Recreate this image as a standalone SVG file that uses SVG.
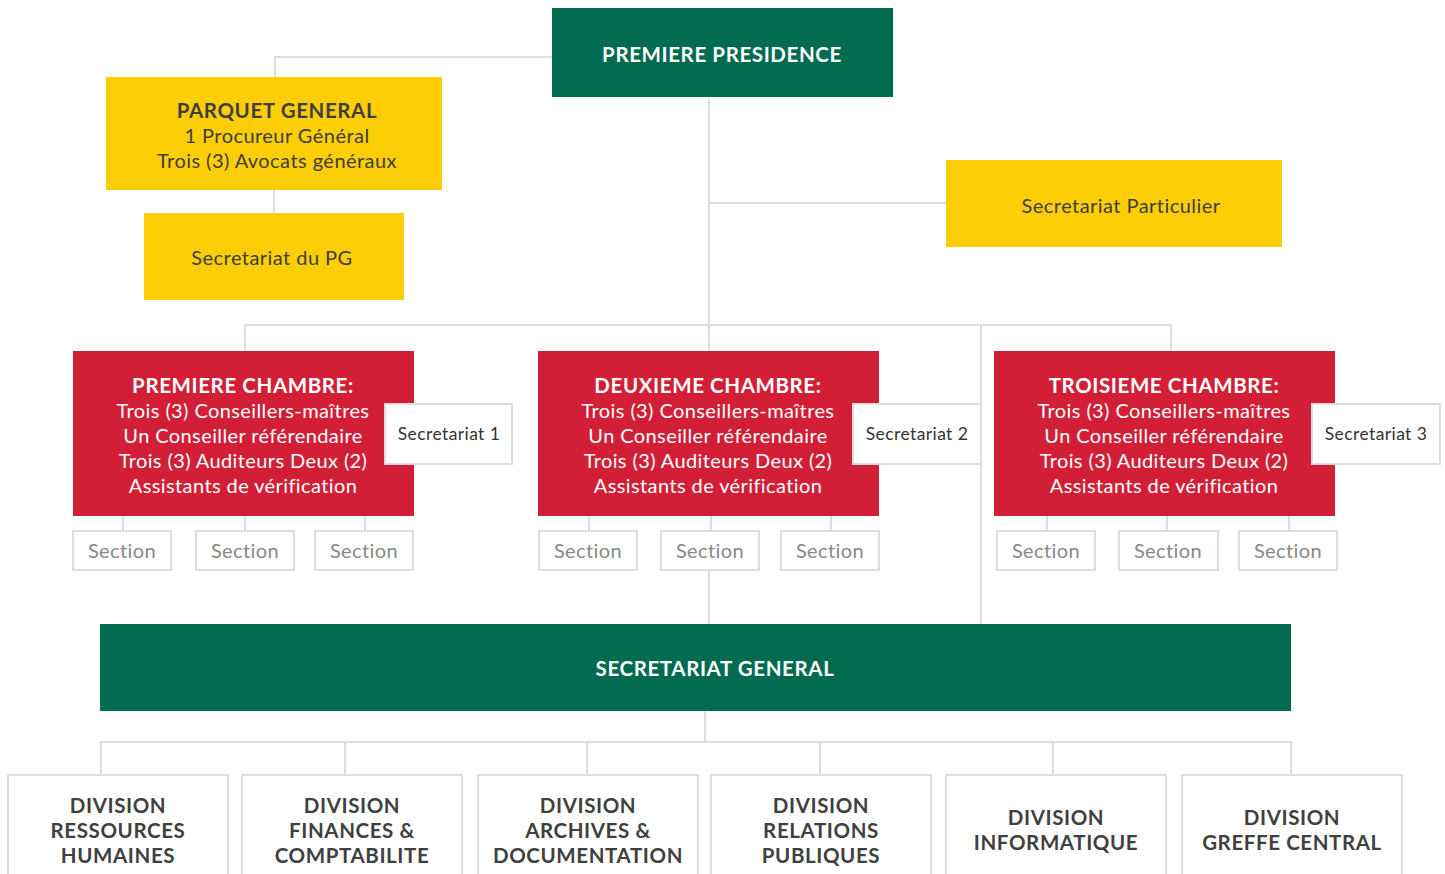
<svg xmlns="http://www.w3.org/2000/svg" width="1445" height="874" viewBox="0 0 1445 874">
<style>
.green{fill:#006B4F}
.yellow{fill:#FDCD06}
.red{fill:#D21F36}
.wbox{fill:#fff;stroke:#dddddd;stroke-width:2}
.conn{stroke:#dddddd;stroke-width:2;fill:none}
text{font-family:Lato,"Open Sans","Liberation Sans",sans-serif;text-anchor:middle;letter-spacing:0.4px}
.tw{fill:#fff;font-weight:bold;font-size:20.5px;letter-spacing:0.6px}
.ty{fill:#3f3f3f;font-size:20px;letter-spacing:0.45px}
.tyb{fill:#3f3f3f;font-size:20.5px;font-weight:bold;letter-spacing:0.6px}
.tr{fill:#fff;font-size:20px}
.trb{fill:#fff;font-size:20.5px;font-weight:bold;letter-spacing:0.6px}
.ts{fill:#333;font-size:17.5px}
.tsec{fill:#888;font-size:20px}
.td{fill:#404040;font-size:20.5px;font-weight:bold;letter-spacing:0.6px}
</style>
<g id="connectors" class="conn">
<polyline points="552,57 275,57 275,77"/>
<line x1="274" y1="190" x2="274" y2="213"/>
<line x1="709" y1="99" x2="709" y2="351"/>
<line x1="709" y1="203" x2="946" y2="203"/>
<line x1="245" y1="325" x2="1171" y2="325"/>
<line x1="245" y1="325" x2="245" y2="351"/>
<line x1="1171" y1="325" x2="1171" y2="351"/>
<line x1="981" y1="325" x2="981" y2="624"/>
<line x1="123" y1="516" x2="123" y2="531"/>
<line x1="245" y1="516" x2="245" y2="531"/>
<line x1="365" y1="516" x2="365" y2="531"/>
<line x1="589" y1="516" x2="589" y2="531"/>
<line x1="711" y1="516" x2="711" y2="531"/>
<line x1="831" y1="516" x2="831" y2="531"/>
<line x1="709" y1="570" x2="709" y2="624"/>
<line x1="1047" y1="516" x2="1047" y2="531"/>
<line x1="1167" y1="516" x2="1167" y2="536"/>
<line x1="1289" y1="516" x2="1289" y2="531"/>
<line x1="705" y1="711" x2="705" y2="742"/>
<polyline points="101,775 101,742 1291,742 1291,775"/>
<line x1="345" y1="742" x2="345" y2="775"/>
<line x1="587" y1="742" x2="587" y2="775"/>
<line x1="820" y1="742" x2="820" y2="775"/>
<line x1="1053" y1="742" x2="1053" y2="775"/>
</g>
<g id="premiere-presidence">
<rect class="green" x="552" y="8" width="341" height="89"/>
<text class="tw" x="722" y="62">PREMIERE PRESIDENCE</text>
</g>
<g id="parquet-general">
<rect class="yellow" x="106" y="77" width="336" height="113"/>
<text class="tyb" x="277" y="118">PARQUET GENERAL</text>
<text class="ty" x="277" y="143">1 Procureur Général</text>
<text class="ty" x="277" y="168">Trois (3) Avocats généraux</text>
</g>
<g id="secretariat-pg">
<rect class="yellow" x="144" y="213" width="260" height="87"/>
<text class="ty" x="272" y="265">Secretariat du PG</text>
</g>
<g id="secretariat-particulier">
<rect class="yellow" x="946" y="160" width="336" height="87"/>
<text class="ty" x="1121" y="213">Secretariat Particulier</text>
</g>
<g id="premiere-chambre">
<rect class="red" x="73" y="351" width="341" height="165"/>
<text class="trb" x="243" y="393">PREMIERE CHAMBRE:</text>
<text class="tr" x="243" y="418">Trois (3) Conseillers-maîtres</text>
<text class="tr" x="243" y="443">Un Conseiller référendaire</text>
<text class="tr" x="243" y="468">Trois (3) Auditeurs Deux (2)</text>
<text class="tr" x="243" y="493">Assistants de vérification</text>
</g>
<g id="deuxieme-chambre">
<rect class="red" x="538" y="351" width="341" height="165"/>
<text class="trb" x="708" y="393">DEUXIEME CHAMBRE:</text>
<text class="tr" x="708" y="418">Trois (3) Conseillers-maîtres</text>
<text class="tr" x="708" y="443">Un Conseiller référendaire</text>
<text class="tr" x="708" y="468">Trois (3) Auditeurs Deux (2)</text>
<text class="tr" x="708" y="493">Assistants de vérification</text>
</g>
<g id="troisieme-chambre">
<rect class="red" x="994" y="351" width="341" height="165"/>
<text class="trb" x="1164" y="393">TROISIEME CHAMBRE:</text>
<text class="tr" x="1164" y="418">Trois (3) Conseillers-maîtres</text>
<text class="tr" x="1164" y="443">Un Conseiller référendaire</text>
<text class="tr" x="1164" y="468">Trois (3) Auditeurs Deux (2)</text>
<text class="tr" x="1164" y="493">Assistants de vérification</text>
</g>
<g id="secretariat-1">
<rect class="wbox" x="385" y="404" width="127" height="60"/>
<text class="ts" x="449" y="440">Secretariat 1</text>
</g>
<g id="secretariat-2">
<rect class="wbox" x="853" y="404" width="128" height="60"/>
<text class="ts" x="917" y="440">Secretariat 2</text>
</g>
<g id="secretariat-3">
<rect class="wbox" x="1312" y="404" width="128" height="60"/>
<text class="ts" x="1376" y="440">Secretariat 3</text>
</g>
<g id="sections-1">
<rect class="wbox" x="73" y="531" width="98" height="39"/><text class="tsec" x="122" y="558">Section</text>
<rect class="wbox" x="196" y="531" width="98" height="39"/><text class="tsec" x="245" y="558">Section</text>
<rect class="wbox" x="315" y="531" width="98" height="39"/><text class="tsec" x="364" y="558">Section</text>
</g>
<g id="sections-2">
<rect class="wbox" x="539" y="531" width="98" height="39"/><text class="tsec" x="588" y="558">Section</text>
<rect class="wbox" x="661" y="531" width="98" height="39"/><text class="tsec" x="710" y="558">Section</text>
<rect class="wbox" x="781" y="531" width="98" height="39"/><text class="tsec" x="830" y="558">Section</text>
</g>
<g id="sections-3">
<rect class="wbox" x="997" y="531" width="98" height="39"/><text class="tsec" x="1046" y="558">Section</text>
<rect class="wbox" x="1119" y="531" width="99" height="39"/><text class="tsec" x="1168" y="558">Section</text>
<rect class="wbox" x="1239" y="531" width="98" height="39"/><text class="tsec" x="1288" y="558">Section</text>
</g>
<g id="secretariat-general">
<rect class="green" x="100" y="624" width="1191" height="87"/>
<text class="tw" x="715" y="676">SECRETARIAT GENERAL</text>
</g>
<g id="division-rh">
<rect class="wbox" x="8" y="775" width="220" height="110"/>
<text class="td" x="118" y="813">DIVISION</text>
<text class="td" x="118" y="838">RESSOURCES</text>
<text class="td" x="118" y="863">HUMAINES</text>
</g>
<g id="division-finances">
<rect class="wbox" x="242" y="775" width="220" height="110"/>
<text class="td" x="352" y="813">DIVISION</text>
<text class="td" x="352" y="838">FINANCES &amp;</text>
<text class="td" x="352" y="863">COMPTABILITE</text>
</g>
<g id="division-archives">
<rect class="wbox" x="478" y="775" width="220" height="110"/>
<text class="td" x="588" y="813">DIVISION</text>
<text class="td" x="588" y="838">ARCHIVES &amp;</text>
<text class="td" x="588" y="863">DOCUMENTATION</text>
</g>
<g id="division-relations">
<rect class="wbox" x="711" y="775" width="220" height="110"/>
<text class="td" x="821" y="813">DIVISION</text>
<text class="td" x="821" y="838">RELATIONS</text>
<text class="td" x="821" y="863">PUBLIQUES</text>
</g>
<g id="division-informatique">
<rect class="wbox" x="946" y="775" width="220" height="110"/>
<text class="td" x="1056" y="825">DIVISION</text>
<text class="td" x="1056" y="850">INFORMATIQUE</text>
</g>
<g id="division-greffe">
<rect class="wbox" x="1182" y="775" width="220" height="110"/>
<text class="td" x="1292" y="825">DIVISION</text>
<text class="td" x="1292" y="850">GREFFE CENTRAL</text>
</g>
</svg>
